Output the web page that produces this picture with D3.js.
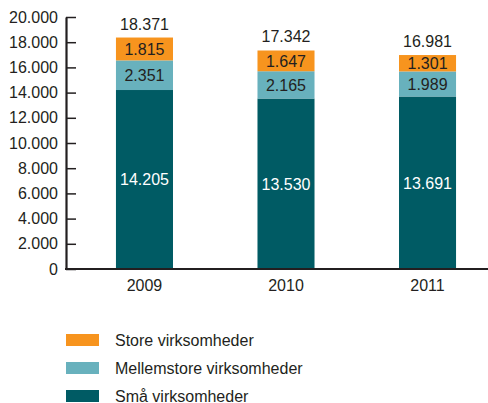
<!DOCTYPE html>
<html><head><meta charset="utf-8">
<script src="https://cdn.jsdelivr.net/npm/d3@7"></script>
<style>body{margin:0;background:#fff}svg{display:block}text{font-family:"Liberation Sans",Arial,sans-serif}</style>
</head><body>
<svg id="c" width="488" height="403"></svg>
<script>
const years = ["2009","2010","2011"];
const small = [14205,13530,13691];
const medium = [2351,2165,1989];
const large = [1815,1647,1301];
const yTicks = [0,2000,4000,6000,8000,10000,12000,14000,16000,18000,20000];
const seriesNames = ["Små virksomheder","Mellemstore virksomheder","Store virksomheder"];
const colors = ["#005b64","#68b1bd","#f7941e"];

const loc = d3.formatLocale({decimal:",",thousands:".",grouping:[3],currency:["",""]});
const fmt = loc.format(",d");
const svg = d3.select("#c");
const W = 488;
const FS = 16;
const y = d3.scaleLinear().domain([0,20000]).range([269,17]);
const x = d3.scaleBand().domain(years).range([73.5,498.5]).paddingInner(0.597).paddingOuter(0.3);
const txt = "#231f20";

const rows = years.map((yr,i)=>({year:yr, s0:small[i], s1:medium[i], s2:large[i]}));
const stack = d3.stack().keys(["s0","s1","s2"])(rows);

const g = svg.append("g");
stack.forEach((layer,li)=>{
  g.selectAll(null).data(layer).join("rect")
    .attr("x",d=>x(d.data.year)).attr("width",x.bandwidth())
    .attr("y",d=>y(d[1])).attr("height",d=>y(d[0])-y(d[1]))
    .attr("fill",colors[li]);
  g.selectAll(null).data(layer).join("text")
    .attr("x",d=>x(d.data.year)+x.bandwidth()/2)
    .attr("y",d=>(y(d[0])+y(d[1]))/2)
    .attr("dy","0.36em").attr("text-anchor","middle")
    .attr("font-size",FS).attr("fill",li===0?"#fff":txt)
    .text(d=>fmt(d[1]-d[0]));
});
// totals
g.selectAll(null).data(rows).join("text")
  .attr("x",d=>x(d.year)+x.bandwidth()/2)
  .attr("y",d=>y(d.s0+d.s1+d.s2)-8)
  .attr("text-anchor","middle").attr("font-size",FS).attr("fill",txt)
  .text(d=>fmt(d.s0+d.s1+d.s2));

// y axis
const ya = svg.append("g").attr("transform","translate(66,0)")
  .call(d3.axisLeft(y).tickValues(yTicks).tickSize(-10).tickSizeOuter(0).tickPadding(8).tickFormat(fmt));
ya.select(".domain").attr("stroke",txt).attr("stroke-width",2.2);
ya.selectAll(".tick line").attr("stroke",txt).attr("stroke-width",1.5);
ya.selectAll(".tick text").attr("font-size",FS).attr("fill",txt).attr("font-family","Liberation Sans, Arial, sans-serif");

// x axis
svg.append("line").attr("x1",65).attr("x2",W).attr("y1",y(0)).attr("y2",y(0))
  .attr("stroke",txt).attr("stroke-width",2.2);
const xa = svg.append("g").attr("transform",`translate(0,${y(0)})`)
  .call(d3.axisBottom(x).tickSize(0).tickPadding(11));
xa.select(".domain").remove();
xa.selectAll(".tick text").attr("font-size",FS).attr("fill",txt).attr("font-family","Liberation Sans, Arial, sans-serif");

// legend
const legendOrder = [2,1,0];
const lg = svg.append("g");
legendOrder.forEach((si,k)=>{
  const yy = 334 + k*28;
  lg.append("rect").attr("x",66).attr("y",yy).attr("width",33).attr("height",12).attr("fill",colors[si]);
  lg.append("text").attr("x",115).attr("y",yy+6).attr("dy","0.36em").attr("font-size",FS).attr("fill",txt).text(seriesNames[si]);
});
</script>
</body></html>
